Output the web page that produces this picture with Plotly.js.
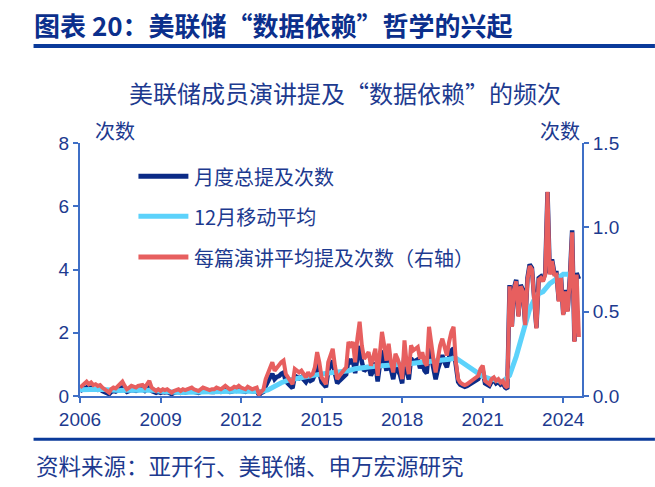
<!DOCTYPE html>
<html>
<head>
<meta charset="utf-8">
<script src="https://cdn.plot.ly/plotly-3.0.1.min.js"></script>
<style>
  html, body { margin: 0; padding: 0; background: #fff; }
  #chart { width: 655px; height: 487px; }
</style>
</head>
<body>
<div id="chart"></div>
<script>
/* global Plotly */

// monthly series start in Jan 2006, one row per year
const startYear = 2006;

// 月度总提及次数 (left axis)
const monthlyTotal = [
    0.16, 0.19, 0.22, 0.27, 0.22, 0.26, 0.21, 0.22, 0.19, 0.21, 0.16, 0.13,
    0.10, 0.06, 0.13, 0.16, 0.14, 0.19, 0.22, 0.27, 0.19, 0.13, 0.16, 0.19,
    0.18, 0.16, 0.19, 0.19, 0.21, 0.16, 0.22, 0.29, 0.16, 0.13, 0.10, 0.13,
    0.10, 0.13, 0.11, 0.13, 0.10, 0.06, 0.10, 0.11, 0.13, 0.10, 0.13, 0.11,
    0.13, 0.14, 0.16, 0.13, 0.11, 0.10, 0.13, 0.16, 0.14, 0.13, 0.11, 0.13,
    0.13, 0.16, 0.14, 0.13, 0.16, 0.19, 0.16, 0.13, 0.14, 0.18, 0.16, 0.19,
    0.16, 0.14, 0.13, 0.18, 0.16, 0.13, 0.14, 0.16, 0.03, 0.10, 0.13, 0.32,
    0.49, 0.60, 0.70, 0.53, 0.60, 0.63, 0.70, 0.74, 0.46, 0.39, 0.32, 0.25,
    0.64, 0.60, 0.56, 0.60, 0.52, 0.44, 0.56, 0.48, 0.52, 0.68, 1.04, 0.80,
    0.44, 0.36, 0.28, 0.80, 0.96, 1.12, 0.72, 0.40, 0.48, 0.56, 0.64, 0.68,
    1.15, 1.08, 1.15, 0.72, 1.22, 1.58, 1.08, 0.79, 0.86, 0.94, 0.65, 0.79,
    1.06, 0.46, 0.95, 1.44, 1.14, 0.80, 1.18, 0.76, 0.53, 0.95, 0.84, 0.68,
    0.40, 1.32, 0.80, 0.52, 1.20, 1.08, 1.12, 1.16, 0.88, 1.04, 0.80, 0.72,
    1.56, 1.14, 0.84, 0.53, 0.84, 1.14, 1.29, 1.06, 0.91, 1.22, 1.44, 1.50,
    0.90, 0.45, 0.36, 0.32, 0.29, 0.32, 0.36, 0.40, 0.45, 0.50, 0.54, 0.72,
    0.81, 0.40, 0.36, 0.32, 0.45, 0.50, 0.40, 0.45, 0.36, 0.40, 0.27, 0.22,
    3.51, 2.21, 3.40, 3.67, 2.54, 3.51, 3.35, 2.27, 3.73, 4.16, 4.05, 3.24,
    2.16, 3.73, 3.78, 3.67, 3.89, 6.45, 3.89, 4.32, 3.89, 3.89, 3.02, 3.78,
    2.59, 3.35, 2.70, 3.78, 5.24, 1.73, 3.89, 3.70
];

// 每篇演讲平均提及次数 (right axis)
const perSpeech = [
    0.05, 0.06, 0.07, 0.085, 0.07, 0.08, 0.065, 0.07, 0.06, 0.065, 0.05, 0.04,
    0.03, 0.02, 0.04, 0.05, 0.045, 0.06, 0.07, 0.085, 0.06, 0.04, 0.05, 0.06,
    0.055, 0.05, 0.06, 0.06, 0.065, 0.05, 0.07, 0.09, 0.05, 0.04, 0.03, 0.04,
    0.03, 0.04, 0.035, 0.04, 0.03, 0.02, 0.03, 0.035, 0.04, 0.03, 0.04, 0.035,
    0.04, 0.045, 0.05, 0.04, 0.035, 0.03, 0.04, 0.05, 0.045, 0.04, 0.035, 0.04,
    0.04, 0.05, 0.045, 0.04, 0.05, 0.06, 0.05, 0.04, 0.045, 0.055, 0.05, 0.06,
    0.05, 0.045, 0.04, 0.055, 0.05, 0.04, 0.045, 0.05, 0.01, 0.03, 0.04, 0.10,
    0.14, 0.17, 0.20, 0.15, 0.17, 0.18, 0.20, 0.21, 0.13, 0.11, 0.09, 0.07,
    0.16, 0.15, 0.14, 0.15, 0.13, 0.11, 0.14, 0.12, 0.13, 0.17, 0.26, 0.20,
    0.11, 0.09, 0.07, 0.20, 0.24, 0.28, 0.18, 0.10, 0.12, 0.14, 0.16, 0.17,
    0.32, 0.30, 0.32, 0.20, 0.34, 0.44, 0.30, 0.22, 0.24, 0.26, 0.18, 0.22,
    0.28, 0.12, 0.25, 0.38, 0.30, 0.21, 0.31, 0.20, 0.14, 0.25, 0.22, 0.18,
    0.10, 0.33, 0.20, 0.13, 0.30, 0.27, 0.28, 0.29, 0.22, 0.26, 0.20, 0.18,
    0.41, 0.30, 0.22, 0.14, 0.22, 0.30, 0.34, 0.28, 0.24, 0.32, 0.38, 0.41,
    0.20, 0.10, 0.08, 0.07, 0.065, 0.07, 0.08, 0.09, 0.10, 0.11, 0.12, 0.16,
    0.18, 0.09, 0.08, 0.07, 0.10, 0.11, 0.09, 0.10, 0.08, 0.09, 0.06, 0.05,
    0.65, 0.41, 0.63, 0.68, 0.47, 0.65, 0.62, 0.42, 0.69, 0.77, 0.75, 0.60,
    0.40, 0.69, 0.70, 0.68, 0.72, 1.21, 0.72, 0.80, 0.72, 0.72, 0.56, 0.70,
    0.48, 0.62, 0.50, 0.70, 0.97, 0.32, 0.72, 0.35
];

// 12月移动平均, read every quarter (Jan, Apr, Jul, Oct)
const movingAvg = [
    0.20, 0.21, 0.22, 0.21,
    0.20, 0.18, 0.17, 0.18,
    0.18, 0.18, 0.19, 0.18,
    0.15, 0.13, 0.11, 0.11,
    0.12, 0.12, 0.13, 0.13,
    0.14, 0.14, 0.15, 0.15,
    0.16, 0.16, 0.15, 0.14,
    0.19, 0.31, 0.42, 0.50,
    0.55, 0.58, 0.62, 0.66,
    0.70, 0.72, 0.76, 0.78,
    0.80, 0.86, 0.90, 0.92,
    0.94, 0.95, 0.96, 0.98,
    1.00, 1.02, 1.04, 1.06,
    1.08, 1.10, 1.12, 1.16,
    1.20, 1.05, 0.90, 0.75,
    0.62, 0.55, 0.50, 0.45,
    0.65, 1.25, 2.00, 2.75,
    3.20, 3.30, 3.55, 3.70,
    3.85, 3.85, 3.70
];

const tickYears = [2006, 2009, 2012, 2015, 2018, 2021, 2024];

const seriesNames = ["月度总提及次数", "12月移动平均", "每篇演讲平均提及次数（右轴）"];
const seriesColors = ["#0b2b87", "#5cd2fb", "#e75f5f"];

// build 'YYYY-MM-01' strings, stepping a number of months
const monthDates = (count, step) => {
    const out = [];
    for (let i = 0; i < count; i++) {
        const m = i * step;
        const y = startYear + Math.floor(m / 12);
        const mm = String((m % 12) + 1).padStart(2, "0");
        out.push(y + "-" + mm + "-01");
    }
    return out;
};

const axisColor = "#3f6fc6";
const textColor = "#1d3a8f";
const fontFamily = "Liberation Sans, Arial, Noto Sans CJK SC, sans-serif";
const cjkFamily = "Noto Sans CJK SC, Liberation Sans, sans-serif";

const data = [
    {
        x: monthDates(monthlyTotal.length, 1),
        y: monthlyTotal,
        name: seriesNames[0],
        type: "scatter",
        mode: "lines",
        line: { color: seriesColors[0], width: 4.5 },
        yaxis: "y",
    },
    {
        x: monthDates(movingAvg.length, 3),
        y: movingAvg,
        name: seriesNames[1],
        type: "scatter",
        mode: "lines",
        line: { color: seriesColors[1], width: 5 },
        yaxis: "y",
    },
    {
        x: monthDates(perSpeech.length, 1),
        y: perSpeech,
        name: seriesNames[2],
        type: "scatter",
        mode: "lines",
        line: { color: seriesColors[2], width: 4 },
        yaxis: "y2",
    },
];

// plot box in pixels, used to place the hand-made legend in paper units
const box = { l: 79.5, r: 582, t: 142.5, b: 396.5 };
const px = (x) => (x - box.l) / (box.r - box.l);
const py = (y) => (box.b - y) / (box.b - box.t);

const legendRows = [176, 216, 257];

const shapes = [
    // rule under the heading and above the source note
    { type: "line", xref: "paper", yref: "paper", x0: px(33), x1: px(655), y0: py(45), y1: py(45),
      line: { color: "#0a3a9a", width: 4 } },
    { type: "line", xref: "paper", yref: "paper", x0: px(33), x1: px(655), y0: py(440), y1: py(440),
      line: { color: "#0a3a9a", width: 3 } },
];

const note = (text, x, y, size, xanchor) => ({
    text: text, xref: "paper", yref: "paper", x: px(x), y: py(y),
    xanchor: xanchor, yanchor: "middle", showarrow: false,
    font: { family: cjkFamily, size: size, color: textColor },
});

const annotations = [
    note("美联储成员演讲提及“数据依赖”的频次", 345, 92, 24, "center"),
    note("次数", 115, 130, 20, "center"),
    note("次数", 560, 130, 20, "center"),
    note("资料来源：亚开行、美联储、申万宏源研究", 33, 466, 22.5, "left"),
];

legendRows.forEach((row, i) => {
    shapes.push({ type: "line", xref: "paper", yref: "paper",
        x0: px(138), x1: px(188), y0: py(row), y1: py(row),
        line: { color: seriesColors[i], width: 5 } });
    annotations.push(note(seriesNames[i], 192, row, 20, "left"));
});

const layout = {
    width: 655,
    height: 487,
    margin: { l: box.l, r: 655 - box.r, t: box.t, b: 487 - box.b, pad: 0 },
    paper_bgcolor: "#fff",
    plot_bgcolor: "#fff",
    font: { family: fontFamily, color: textColor, size: 19 },
    showlegend: false,
    title: {
        text: "图表 20：美联储“数据依赖”哲学的兴起",
        xref: "container", yref: "container",
        x: 34 / 655, xanchor: "left",
        y: 1 - 27 / 487, yanchor: "middle",
        font: { family: cjkFamily, size: 26, color: "#0b2f8c", weight: "bold" },
    },
    xaxis: {
        type: "date",
        range: ["2006-01-01", "2024-09-12"],
        tickvals: tickYears.map((y) => y + "-01-01"),
        ticktext: tickYears.map(String),
        ticks: "outside", ticklen: 5, tickwidth: 2, tickcolor: axisColor,
        showline: true, linecolor: axisColor, linewidth: 2,
        showgrid: false, zeroline: false,
        tickfont: { size: 19, color: textColor },
    },
    yaxis: {
        range: [0, 8], dtick: 2,
        ticks: "outside", ticklen: 5, tickwidth: 2, tickcolor: axisColor,
        showline: true, linecolor: axisColor, linewidth: 2,
        showgrid: false, zeroline: false,
        tickfont: { size: 19, color: textColor },
    },
    yaxis2: {
        range: [0, 1.5], dtick: 0.5, tickformat: ".1f",
        overlaying: "y", side: "right",
        ticks: "outside", ticklen: 5, tickwidth: 2, tickcolor: axisColor,
        showline: true, linecolor: axisColor, linewidth: 2,
        showgrid: false, zeroline: false,
        tickfont: { size: 19, color: textColor },
    },
    shapes: shapes,
    annotations: annotations,
};

Plotly.newPlot("chart", data, layout, { staticPlot: true });
</script>
</body>
</html>
